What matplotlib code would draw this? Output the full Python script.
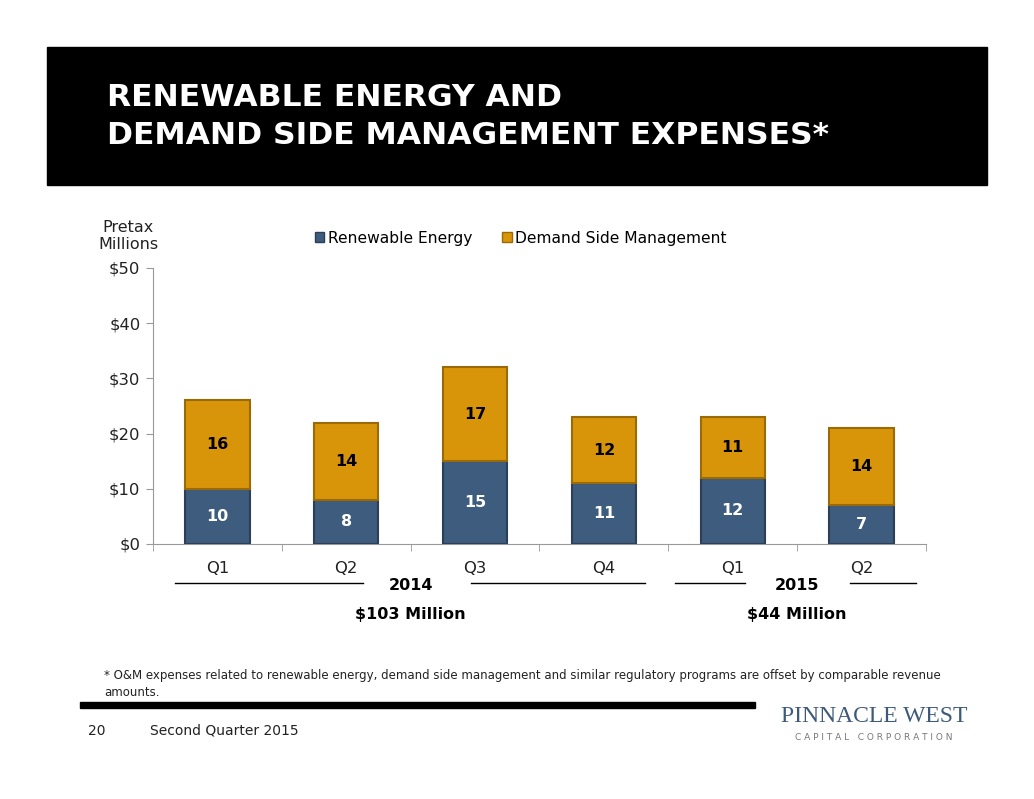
import matplotlib.pyplot as plt
from matplotlib.patches import Rectangle
from matplotlib.lines import Line2D

plt.rcParams['font.family'] = ['Verdana', 'DejaVu Sans']

quarters = ['Q1', 'Q2', 'Q3', 'Q4', 'Q1', 'Q2']
years = ['2014', '2014', '2014', '2014', '2015', '2015']
renewable = [10, 8, 15, 11, 12, 7]
dsm = [16, 14, 17, 12, 11, 14]
y_ticks = [0, 10, 20, 30, 40, 50]

blue = '#3E5C7E'
gold = '#D8950A'

fig = plt.figure(figsize=(10.34, 7.99), dpi=100)

# black title band
fig.patches.append(Rectangle((47 / 1034, 1 - 185 / 799), 940 / 1034, 138 / 799,
                             transform=fig.transFigure, color='black', zorder=0))
fig.text(107 / 1034, 1 - 98 / 799, 'RENEWABLE ENERGY AND', color='white',
         fontsize=22.6, fontweight='bold', va='center')
fig.text(107 / 1034, 1 - 135 / 799, 'DEMAND SIDE MANAGEMENT EXPENSES*', color='white',
         fontsize=22.6, fontweight='bold', va='center')

ax = fig.add_axes([153 / 1034, 1 - 544 / 799, 773 / 1034, 276 / 799])
x = list(range(len(quarters)))
ax.bar(x, renewable, width=0.5, color=blue, edgecolor='#2B4058', linewidth=1.5, zorder=3)
ax.bar(x, dsm, width=0.5, bottom=renewable, color=gold, edgecolor='#9A6A05',
       linewidth=1.5, zorder=3)

for i in x:
    ax.text(i, renewable[i] / 2, str(renewable[i]), ha='center', va='center',
            color='white', fontsize=11.5, fontweight='bold', zorder=4)
    ax.text(i, renewable[i] + dsm[i] / 2, str(dsm[i]), ha='center', va='center',
            color='black', fontsize=11.5, fontweight='bold', zorder=4)

ax.set_xlim(-0.5, len(quarters) - 0.5)
ax.set_ylim(0, 50)
ax.set_yticks(y_ticks)
ax.set_yticklabels(['$%d' % v for v in y_ticks], fontsize=11.8, color='#222222')
ax.set_xticks(x)
ax.set_xticklabels(quarters, fontsize=11.8, color='#222222')
ax.set_xticks([i - 0.5 for i in range(len(quarters) + 1)], minor=True)
ax.tick_params(axis='x', which='major', length=0, pad=12)
ax.tick_params(axis='x', which='minor', length=5, color='#999999')
ax.tick_params(axis='y', length=5, color='#999999', pad=4)
for s in ['top', 'right']:
    ax.spines[s].set_visible(False)
for s in ['left', 'bottom']:
    ax.spines[s].set_color('#999999')

# legend
h1 = Rectangle((0, 0), 1, 1, facecolor=blue, edgecolor='#2B4058')
h2 = Rectangle((0, 0), 1, 1, facecolor=gold, edgecolor='#9A6A05')
fig.legend([h1, h2], ['Renewable Energy', 'Demand Side Management'], loc='center',
           bbox_to_anchor=(521 / 1034, 1 - 238 / 799), ncol=2, frameon=False,
           fontsize=11.2, handlelength=0.6, handleheight=0.6, handletextpad=0.25,
           columnspacing=1.9)

fig.text(128 / 1034, 1 - 236 / 799, 'Pretax\nMillions', ha='center', va='center',
         fontsize=11.5, color='#222222', linespacing=1.1)

# year groups and totals
groups = []
for i, yr in enumerate(years):
    if not groups or groups[-1][0] != yr:
        groups.append([yr, i, i])
    else:
        groups[-1][2] = i

line_spans = {'2014': [(175, 363), (471, 645)], '2015': [(675, 745), (850, 916)]}
for yr, i0, i1 in groups:
    xc = (i0 + i1) / 2
    xf = (153 + (xc + 0.5) * 773 / len(quarters)) / 1034
    fig.text(xf, 1 - 585 / 799, yr, ha='center', va='center', fontsize=11.5,
             fontweight='bold')
    total = sum(renewable[i0:i1 + 1]) + sum(dsm[i0:i1 + 1])
    fig.text(xf, 1 - 615 / 799, '$%d Million' % total, ha='center', va='center',
             fontsize=11.5, fontweight='bold')
    for a, b in line_spans[yr]:
        fig.lines.append(Line2D([a / 1034, b / 1034], [1 - 583 / 799] * 2,
                                transform=fig.transFigure, color='black', lw=1))

fig.text(104 / 1034, 1 - 684 / 799,
         '* O&M expenses related to renewable energy, demand side management and similar '
         'regulatory programs are offset by comparable revenue\namounts.',
         ha='left', va='center', fontsize=8.5, color='#222222', linespacing=1.3)

fig.patches.append(Rectangle((80 / 1034, 1 - 708 / 799), 675 / 1034, 6 / 799,
                             transform=fig.transFigure, color='black'))
fig.text(88 / 1034, 1 - 731 / 799, '20', fontsize=10, va='center', color='#222222')
fig.text(150 / 1034, 1 - 731 / 799, 'Second Quarter 2015', fontsize=10, va='center',
         color='#222222')

fig.text(874 / 1034, 1 - 716 / 799, 'PINNACLE WEST', ha='center', va='center',
         fontsize=17, color='#3D5A7A', family=['Liberation Serif', 'DejaVu Serif'])
fig.text(874 / 1034, 1 - 737 / 799, 'C A P I T A L   C O R P O R A T I O N',
         ha='center', va='center', fontsize=6.5, color='#777777')

fig.savefig('out.png', dpi=100)
